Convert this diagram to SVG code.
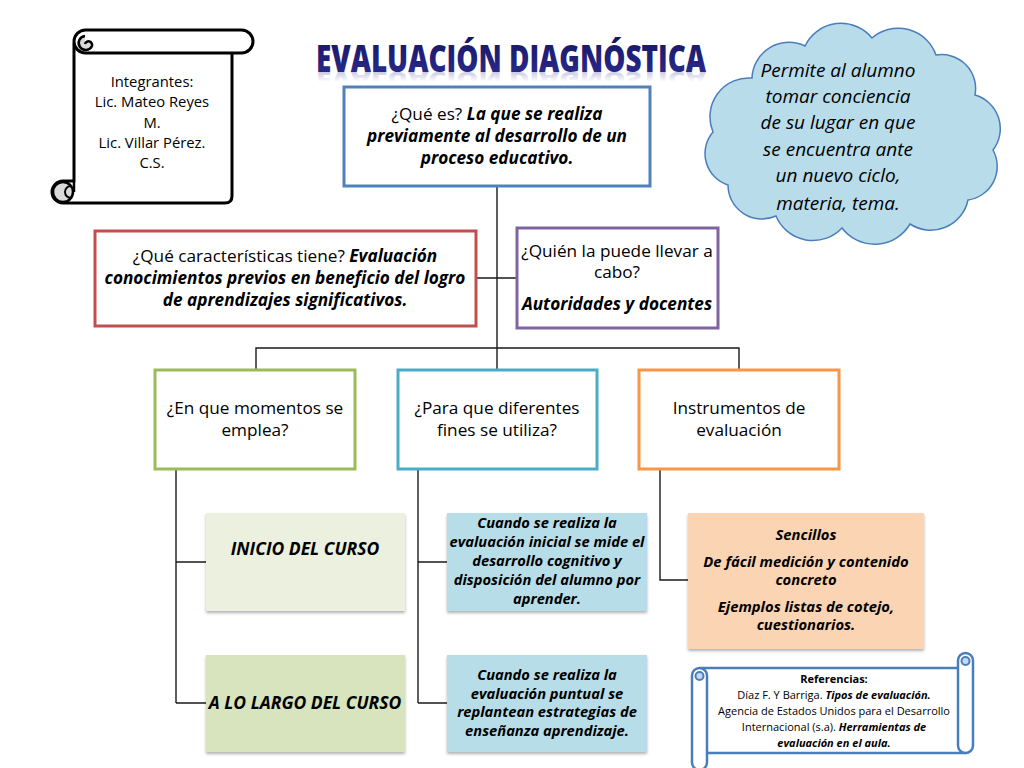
<svg xmlns="http://www.w3.org/2000/svg" width="1024" height="768" viewBox="0 0 1024 768">
<defs>
<style>
.t{font-family:"Open Sans",Lato,"Liberation Sans",sans-serif;fill:#000;text-anchor:middle}
.r{font-size:17.2px}
.bi{font-weight:bold;font-style:italic}
.it{font-style:italic}
.sm{font-size:14.7px}
.box{fill:#fff;stroke-width:3}
.ln{stroke:#1a1a1a;stroke-width:1.4;fill:none}
.scr{stroke:#000;stroke-width:3;stroke-linejoin:round;fill:#fff}
.scrb{stroke:#4a7ebb;stroke-width:2.5;stroke-linejoin:round;fill:#fff}
.ttl{font-family:"Open Sans",Lato,"Liberation Sans",sans-serif;font-weight:800;font-size:37px;text-anchor:middle}
</style>
<linearGradient id="tg" x1="0" y1="0" x2="0" y2="1">
<stop offset="0" stop-color="#14145e"/>
<stop offset="1" stop-color="#2e2e96"/>
</linearGradient>
<linearGradient id="rg" x1="0" y1="1" x2="0" y2="0">
<stop offset="0" stop-color="#2e2e96" stop-opacity="0.4"/>
<stop offset="0.6" stop-color="#2e2e96" stop-opacity="0"/>
</linearGradient>
<filter id="sh" x="-5%" y="-5%" width="110%" height="115%">
<feDropShadow dx="0" dy="2" stdDeviation="1.5" flood-color="#000" flood-opacity="0.3"/>
</filter>
</defs>
<rect width="1024" height="768" fill="#fff"/>

<g id="title">
<text class="ttl" x="0" y="0" transform="translate(511,72) scale(0.74,1)" fill="url(#tg)" textLength="527" lengthAdjust="spacingAndGlyphs">EVALUACIÓN DIAGNÓSTICA</text>
<text class="ttl" x="0" y="72" transform="translate(511,108) scale(0.74,-0.5)" fill="url(#rg)" textLength="527" lengthAdjust="spacingAndGlyphs">EVALUACIÓN DIAGNÓSTICA</text>
</g>

<g id="connectors">
<path class="ln" d="M497,186 V370 M476,278 H517 M256,370 V348 H739 V370 M176,470 V703 M176,562 H206 M176,703 H206 M418,470 V703 M418,562 H447 M418,703 H447 M660,470 V580 H688"/>
</g>

<g id="integrantes">
<path class="scr" d="M74,44 H232 V196 Q232,203 225,203 H63 A11,11 0 0 1 63,181 H74 Z"/>
<rect class="scr" x="74" y="30" width="179" height="23" rx="11.5"/>
<path d="M85,36 A7,7 0 1 0 92,46 A3.5,3.5 0 0 0 85,44" fill="#d9d9d9" stroke="#000" stroke-width="2.5"/>
<circle cx="63" cy="192" r="10" fill="#d9d9d9" stroke="#000" stroke-width="2.5"/>
<path d="M71,186 A6,6 0 1 0 71,198" fill="none" stroke="#000" stroke-width="2"/>
<path d="M74,181 V192" stroke="#000" stroke-width="2.5"/>
<text class="t" font-size="14.8" x="152" y="87">Integrantes:</text>
<text class="t" font-size="14.8" x="152" y="107">Lic. Mateo Reyes</text>
<text class="t" font-size="14.8" x="152" y="128">M.</text>
<text class="t" font-size="14.8" x="152" y="148">Lic. Villar Pérez.</text>
<text class="t" font-size="14.8" x="152" y="168">C.S.</text>
</g>

<g id="cloud">
<path d="M752,78 A37,37 0 0 1 805,46 A40,40 0 0 1 872,38 A40,40 0 0 1 936,55 A34,34 0 0 1 975,95 A35,35 0 0 1 993,150 A34,34 0 0 1 968,200 A38,38 0 0 1 910,224 A41,41 0 0 1 842,228 A40,40 0 0 1 776,216 A34,34 0 0 1 728,185 A33,33 0 0 1 713,132 A39,39 0 0 1 752,78 Z" fill="#b9dcea" stroke="#4a7ebb" stroke-width="1.5"/>
<text class="t it" font-size="19" x="838" y="77">Permite al alumno</text>
<text class="t it" font-size="19" x="838" y="103">tomar conciencia</text>
<text class="t it" font-size="19" x="838" y="129">de su lugar en que</text>
<text class="t it" font-size="19" x="838" y="156">se encuentra ante</text>
<text class="t it" font-size="19" x="838" y="182">un nuevo ciclo,</text>
<text class="t it" font-size="19" x="838" y="210">materia, tema.</text>
</g>

<g id="que-es">
<rect class="box" x="344" y="87" width="306" height="99" stroke="#4f81bd"/>
<text class="t r" x="497" y="120">¿Qué es? <tspan class="bi">La que se realiza</tspan></text>
<text class="t r bi" x="497" y="142">previamente al desarrollo de un</text>
<text class="t r bi" x="497" y="164">proceso educativo.</text>
</g>

<g id="caracteristicas">
<rect class="box" x="95" y="231" width="381" height="95" stroke="#c0504d"/>
<text class="t r" x="285" y="262">¿Qué características tiene? <tspan class="bi">Evaluación</tspan></text>
<text class="t r bi" x="285" y="284">conocimientos previos en beneficio del logro</text>
<text class="t r bi" x="285" y="306">de aprendizajes significativos.</text>
</g>

<g id="quien">
<rect class="box" x="517" y="228" width="201" height="100" stroke="#8064a2"/>
<text class="t r" x="617" y="257">¿Quién la puede llevar a</text>
<text class="t r" x="617" y="278">cabo?</text>
<text class="t r bi" x="617" y="310">Autoridades y docentes</text>
</g>

<g id="momentos">
<rect class="box" x="155" y="370" width="200" height="99" stroke="#9bbb59"/>
<text class="t r" x="255" y="414">¿En que momentos se</text>
<text class="t r" x="255" y="436">emplea?</text>
</g>

<g id="fines">
<rect class="box" x="398" y="370" width="199" height="99" stroke="#4bacc6"/>
<text class="t r" x="497" y="414">¿Para que diferentes</text>
<text class="t r" x="497" y="436">fines se utiliza?</text>
</g>

<g id="instrumentos">
<rect class="box" x="639" y="370" width="200" height="99" stroke="#f79646"/>
<text class="t r" x="739" y="414">Instrumentos de</text>
<text class="t r" x="739" y="436">evaluación</text>
</g>

<g id="inicio">
<rect x="206" y="513" width="199" height="98" fill="#ebf1de" filter="url(#sh)"/>
<text class="t bi" font-size="17.5" x="305" y="555">INICIO DEL CURSO</text>
</g>

<g id="largo">
<rect x="206" y="655" width="199" height="97" fill="#d7e4bd" filter="url(#sh)"/>
<text class="t bi" font-size="17.5" x="305" y="709">A LO LARGO DEL CURSO</text>
</g>

<g id="inicial">
<rect x="447" y="513" width="200" height="98" fill="#b7dde8" filter="url(#sh)"/>
<text class="t bi sm" x="547" y="528">Cuando se realiza la</text>
<text class="t bi sm" x="547" y="547">evaluación inicial se mide el</text>
<text class="t bi sm" x="547" y="566">desarrollo cognitivo y</text>
<text class="t bi sm" x="547" y="585">disposición del alumno por</text>
<text class="t bi sm" x="547" y="604">aprender.</text>
</g>

<g id="puntual">
<rect x="447" y="655" width="200" height="97" fill="#b7dde8" filter="url(#sh)"/>
<text class="t bi sm" x="547" y="680">Cuando se realiza la</text>
<text class="t bi sm" x="547" y="699">evaluación puntual se</text>
<text class="t bi sm" x="547" y="717">replantean estrategias de</text>
<text class="t bi sm" x="547" y="736">enseñanza aprendizaje.</text>
</g>

<g id="sencillos">
<rect x="688" y="513" width="236" height="136" fill="#fbd4b4" filter="url(#sh)"/>
<text class="t bi" font-size="14.8" x="806" y="540">Sencillos</text>
<text class="t bi" font-size="14.8" x="806" y="567">De fácil medición y contenido</text>
<text class="t bi" font-size="14.8" x="806" y="585">concreto</text>
<text class="t bi" font-size="14.8" x="806" y="612">Ejemplos listas de cotejo,</text>
<text class="t bi" font-size="14.8" x="806" y="630">cuestionarios.</text>
</g>

<g id="referencias">
<rect class="scrb" x="700" y="668" width="266" height="85"/>
<rect class="scrb" x="692" y="668" width="15" height="102" rx="7.5"/>
<rect class="scrb" x="958" y="653" width="15" height="100" rx="7.5"/>
<circle cx="699.5" cy="676" r="4" fill="#c6d9f1" stroke="#4a7ebb" stroke-width="2"/>
<circle cx="965.5" cy="661" r="4" fill="#c6d9f1" stroke="#4a7ebb" stroke-width="2"/>
<text class="t" font-size="11" font-weight="bold" x="834" y="683">Referencias:</text>
<text class="t" font-size="11" x="834" y="699">Díaz F. Y Barriga. <tspan class="bi">Tipos de evaluación.</tspan></text>
<text class="t" font-size="11" x="834" y="715">Agencia de Estados Unidos para el Desarrollo</text>
<text class="t" font-size="11" x="834" y="731">Internacional (s.a). <tspan class="bi">Herramientas de</tspan></text>
<text class="t bi" font-size="11" x="834" y="747">evaluación en el aula.</text>
</g>
</svg>
